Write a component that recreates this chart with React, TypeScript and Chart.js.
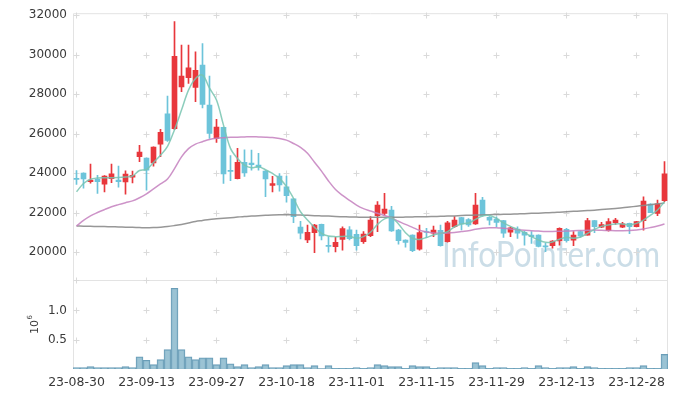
import { useEffect, useRef } from 'react';
import { Chart, registerables } from 'chart.js';

Chart.register(...registerables);

const dates = [
  '23-08-30', '23-08-31', '23-09-01', '23-09-04', '23-09-05', '23-09-06', '23-09-07', '23-09-08', '23-09-11', '23-09-12',
  '23-09-13', '23-09-14', '23-09-15', '23-09-18', '23-09-19', '23-09-20', '23-09-21', '23-09-22', '23-09-25', '23-09-26',
  '23-09-27', '23-10-04', '23-10-05', '23-10-06', '23-10-10', '23-10-11', '23-10-12', '23-10-13', '23-10-16', '23-10-17',
  '23-10-18', '23-10-19', '23-10-20', '23-10-23', '23-10-24', '23-10-25', '23-10-26', '23-10-27', '23-10-30', '23-10-31',
  '23-11-01', '23-11-02', '23-11-03', '23-11-06', '23-11-07', '23-11-08', '23-11-09', '23-11-10', '23-11-13', '23-11-14',
  '23-11-15', '23-11-16', '23-11-17', '23-11-20', '23-11-21', '23-11-22', '23-11-23', '23-11-24', '23-11-27', '23-11-28',
  '23-11-29', '23-11-30', '23-12-01', '23-12-04', '23-12-05', '23-12-06', '23-12-07', '23-12-08', '23-12-11', '23-12-12',
  '23-12-13', '23-12-14', '23-12-15', '23-12-18', '23-12-19', '23-12-20', '23-12-21', '23-12-22', '23-12-26', '23-12-27',
  '23-12-28', '24-01-02', '24-01-03', '24-01-04', '24-01-05',
];

const openP = [
  23720, 24000, 23570, 23700, 23440, 23720, 23650, 23550, 23790, 24830,
  24760, 24520, 25470, 27000, 26250, 28370, 28830, 28340, 29470, 27440,
  25750, 26320, 24120, 23720, 24550, 24500, 24400, 24100, 23380, 23850,
  23300, 22690, 21260, 20610, 20980, 21400, 20320, 20270, 20640, 21120,
  20900, 20520, 20830, 21840, 21960, 22120, 21110, 20610, 20860, 20140,
  21020, 20950, 21100, 20530, 21290, 21740, 21650, 21420, 22630, 21760,
  21670, 21590, 21000, 21160, 21000, 20860, 20860, 20290, 20320, 20560,
  21150, 20600, 21030, 20860, 21590, 21260, 21080, 21490, 21260, 21450,
  21280, 21590, 22430, 21960, 22600,
];
const highP = [
  24130, 24010, 24450, 23890, 23870, 24450, 24350, 24110, 24100, 25410,
  24770, 25330, 26210, 27900, 31680, 30480, 30480, 30140, 30560, 28910,
  26720, 26330, 24880, 25250, 25180, 25170, 25000, 24120, 23840, 23980,
  23850, 22700, 21550, 21370, 21400, 21420, 20780, 20740, 21280, 21290,
  21110, 21030, 21790, 22550, 22970, 22320, 21150, 20620, 20870, 21370,
  21200, 21320, 21370, 21560, 21790, 21760, 21700, 22970, 22770, 21800,
  21780, 21600, 21260, 21280, 21050, 21030, 20870, 20440, 20580, 21230,
  21200, 21030, 21080, 21710, 21600, 21500, 21700, 21710, 21500, 21470,
  21560, 22800, 22450, 22630, 24580,
];
const lowP = [
  23430, 23230, 23490, 22970, 23050, 23520, 23280, 22930, 23500, 24580,
  23140, 24350, 24830, 25600, 26200, 28130, 28540, 27620, 27300, 25750,
  25550, 23480, 23620, 23700, 23830, 24150, 24150, 22800, 23050, 23080,
  22530, 21490, 20660, 20480, 19970, 20610, 19990, 20000, 20100, 20610,
  20100, 20440, 20780, 21030, 21870, 21050, 20400, 20240, 20020, 20100,
  20740, 20780, 20300, 20500, 21250, 21120, 21300, 21400, 21820, 21370,
  21280, 20740, 20780, 20690, 20350, 20440, 20260, 20020, 20190, 20350,
  20500, 20320, 20750, 20850, 20980, 21240, 21060, 21400, 21240, 20930,
  21270, 21110, 21990, 21840, 22550,
];
const closeP = [
  23680, 23700, 23650, 23560, 23850, 23960, 23570, 23950, 23880, 25060,
  24150, 25320, 26060, 25650, 29920, 28910, 29330, 29210, 27480, 26010,
  26330, 23960, 24090, 24550, 24010, 24430, 24300, 23700, 23470, 23400,
  22850, 21790, 20950, 21000, 21370, 20820, 20290, 20490, 21190, 20680,
  20320, 20910, 21620, 22380, 22170, 21070, 20580, 20490, 20070, 20980,
  20990, 21110, 20320, 21480, 21620, 21420, 21370, 22380, 21850, 21620,
  21500, 20950, 21230, 20950, 20860, 20780, 20280, 20260, 20560, 21200,
  20580, 20860, 20810, 21590, 21290, 21390, 21540, 21620, 21430, 21290,
  21540, 22580, 22000, 22440, 23960,
];

const volume = [
  0.023, 0.023, 0.04, 0.023, 0.023, 0.023, 0.023, 0.04, 0.023, 0.21,
  0.15, 0.074, 0.16, 0.33, 1.38, 0.33, 0.21, 0.16, 0.19, 0.19,
  0.074, 0.19, 0.09, 0.04, 0.074, 0.023, 0.04, 0.074, 0.023, 0.023,
  0.057, 0.074, 0.074, 0.023, 0.057, 0.006, 0.057, 0.01, 0.01, 0.01,
  0.023, 0.01, 0.023, 0.074, 0.057, 0.04, 0.04, 0.01, 0.057, 0.04,
  0.04, 0.01, 0.023, 0.023, 0.023, 0.01, 0.01, 0.11, 0.057, 0.01,
  0.023, 0.023, 0.01, 0.01, 0.023, 0.01, 0.057, 0.023, 0.01, 0.023,
  0.023, 0.04, 0.01, 0.04, 0.023, 0.01, 0.01, 0.01, 0.01, 0.023,
  0.023, 0.057, 0.01, 0.01, 0.25,
];

const ma5 = [
  23050, 23470, 23690, 23750, 23760, 23760, 23770, 23800, 23850, 24130,
  24180, 24540, 24900, 25350, 26200, 27190, 28200, 28790, 28960, 28300,
  27700, 26430, 25250, 24740, 24400, 24270, 24320, 24170, 23980, 23730,
  23310, 22720, 22040, 21620, 21250, 20950, 20810, 20780, 20790, 20800,
  20700, 20780, 21000, 21400, 21680, 21740, 21420, 20980, 20700, 20640,
  20740, 20860, 20940, 21030, 21280, 21420, 21470, 21650, 21830, 21850,
  21700, 21480, 21300, 21150, 20980, 20780, 20610, 20490, 20510, 20650,
  20750, 20700, 20760, 20945, 21150, 21300, 21370, 21420, 21420, 21370,
  21450, 21620, 21870, 22130, 22550,
];
const ma20 = [
  21317, 21600, 21830, 22000, 22150, 22290, 22400, 22500, 22590, 22750,
  22950, 23200, 23450, 23700, 24230, 24820, 25240, 25470, 25590, 25700,
  25760, 25790, 25810, 25820, 25830, 25840, 25830, 25820, 25800, 25750,
  25670, 25500, 25300, 25000, 24550, 24100, 23600, 23170, 22870, 22620,
  22380, 22200, 22080, 21960, 21850, 21720, 21560, 21400, 21250, 21100,
  21020, 20970, 20950, 20960, 20990, 21040, 21080, 21150, 21200, 21230,
  21230, 21200, 21170, 21130, 21100, 21080, 21060, 21040, 21040, 21050,
  21060, 21080, 21090, 21100, 21110, 21100, 21090, 21080, 21080, 21090,
  21120, 21170, 21240, 21320, 21420,
];
const ma60 = [
  21317, 21310, 21300, 21295, 21290, 21280, 21270, 21260, 21250, 21240,
  21230, 21240, 21260, 21290, 21340, 21400, 21470, 21550, 21600, 21650,
  21680, 21710, 21740, 21770, 21800, 21820, 21840, 21860, 21880, 21890,
  21890, 21880, 21870, 21860, 21840, 21830, 21820, 21800, 21790, 21780,
  21770, 21760, 21760, 21760, 21760, 21760, 21760, 21770, 21780, 21790,
  21790, 21800, 21810, 21820, 21830, 21850, 21860, 21870, 21880, 21890,
  21900, 21910, 21920, 21930, 21940, 21960, 21970, 21990, 22000, 22020,
  22040, 22060, 22080, 22100, 22120, 22150, 22180, 22210, 22240, 22280,
  22320, 22360, 22400, 22440, 22480,
];

const priceTicks = [20000, 22000, 24000, 26000, 28000, 30000, 32000];
const volumeTicks = [0.5, 1.0];
const labelEvery = 10;
const watermarkText = 'InfoPointer.com';
const volumeUnitBase = '10';
const volumeUnitExp = '6';

const UP = '#e8373c';
const DOWN = '#6dc4da';
const FONT = 'DejaVu Sans';

export default function App() {
  const ref = useRef<HTMLCanvasElement>(null);

  useEffect(() => {
    if (!ref.current) return;
    const colors = closeP.map((c, i) => (c >= openP[i] ? UP : DOWN));

    const decor = {
      id: 'decor',
      beforeDatasetsDraw(chart: any) {
        const { ctx, chartArea: a, scales } = chart;
        const x = scales.x;
        const y = scales.y;
        const yv = scales.yVol;
        ctx.save();
        // watermark
        ctx.font = `36px Lato`;
        const w = ctx.measureText(watermarkText).width;
        ctx.fillStyle = 'rgba(186, 209, 223, 0.75)';
        ctx.textBaseline = 'alphabetic';
        ctx.translate(a.right - 8 - 218, y.bottom - 13);
        ctx.scale(218 / w, 1);
        ctx.fillText(watermarkText, 0, 0);
        ctx.restore();

        ctx.save();
        // frame
        ctx.strokeStyle = '#e3e3e3';
        ctx.lineWidth = 1;
        ctx.beginPath();
        ctx.moveTo(a.left + 0.5, a.top + 0.5);
        ctx.lineTo(a.right - 0.5, a.top + 0.5);
        ctx.lineTo(a.right - 0.5, a.bottom - 0.5);
        ctx.moveTo(a.left + 0.5, a.top + 0.5);
        ctx.lineTo(a.left + 0.5, a.bottom - 0.5);
        ctx.lineTo(a.right - 0.5, a.bottom - 0.5);
        ctx.moveTo(a.left, Math.round(yv.top) + 0.5);
        ctx.lineTo(a.right, Math.round(yv.top) + 0.5);
        ctx.stroke();

        // grid crosses
        ctx.strokeStyle = '#dadada';
        const xs: number[] = [];
        dates.forEach((_, i) => {
          if (i % labelEvery === 0) xs.push(Math.round(x.getPixelForValue(i) - 0.5) + 0.5);
        });
        const ys = [
          ...priceTicks.map((v) => y.getPixelForValue(v)),
          ...volumeTicks.map((v) => yv.getPixelForValue(v)),
          yv.top,
        ].map((v) => Math.round(v) + 0.5);
        ctx.beginPath();
        for (const px of xs) {
          for (const py of ys) {
            ctx.moveTo(px - 3, py);
            ctx.lineTo(px + 3, py);
            ctx.moveTo(px, py - 3);
            ctx.lineTo(px, py + 3);
          }
        }
        ctx.stroke();
        ctx.restore();
      },
      afterDraw(chart: any) {
        const { ctx, scales } = chart;
        const yv = scales.yVol;
        ctx.save();
        ctx.fillStyle = '#3a3a3a';
        ctx.textBaseline = 'alphabetic';
        ctx.textAlign = 'left';
        ctx.font = `11px ${FONT}`;
        const wb = ctx.measureText(volumeUnitBase).width;
        ctx.font = `7px ${FONT}`;
        const we = ctx.measureText(volumeUnitExp).width;
        const total = wb + we + 0.5;
        const cy = (yv.top + yv.bottom) / 2;
        ctx.translate(37.5, cy + total / 2);
        ctx.rotate(-Math.PI / 2);
        ctx.font = `11px ${FONT}`;
        ctx.fillText(volumeUnitBase, 0, 0);
        ctx.font = `7px ${FONT}`;
        ctx.fillText(volumeUnitExp, wb + 0.5, -5.5);
        ctx.restore();
      },
    };

    const chart = new Chart(ref.current, {
      type: 'bar',
      data: {
        labels: dates,
        datasets: [
          {
            type: 'line',
            label: 'MA5',
            data: ma5,
            yAxisID: 'y',
            borderColor: 'rgba(120, 196, 176, 0.85)',
            borderWidth: 1.5,
            pointRadius: 0,
            tension: 0.35,
            order: 0,
          },
          {
            type: 'line',
            label: 'MA20',
            data: ma20,
            yAxisID: 'y',
            borderColor: 'rgba(196, 128, 190, 0.85)',
            borderWidth: 1.5,
            pointRadius: 0,
            tension: 0.35,
            order: 0,
          },
          {
            type: 'line',
            label: 'MA60',
            data: ma60,
            yAxisID: 'y',
            borderColor: 'rgba(140, 140, 140, 0.9)',
            borderWidth: 1.5,
            pointRadius: 0,
            tension: 0.35,
            order: 0,
          },
          {
            type: 'bar',
            label: 'body',
            data: openP.map((o, i) => [o, closeP[i]]),
            yAxisID: 'y',
            backgroundColor: colors,
            barThickness: 5,
            minBarLength: 1,
            grouped: false,
            order: 1,
          },
          {
            type: 'bar',
            label: 'wick',
            data: lowP.map((l, i) => [l, highP[i]]),
            yAxisID: 'y',
            backgroundColor: colors,
            barThickness: 1,
            grouped: false,
            order: 2,
          },
          {
            type: 'bar',
            label: 'volume',
            data: volume,
            yAxisID: 'yVol',
            backgroundColor: 'rgba(138, 184, 204, 0.85)',
            borderColor: '#6a9db7',
            borderWidth: 1,
            barPercentage: 1,
            categoryPercentage: 1,
            grouped: false,
            order: 3,
          },
        ],
      } as any,
      options: {
        responsive: false,
        animation: false,
        devicePixelRatio: 1,
        events: [],
        layout: { padding: { top: 13, right: 9, left: 0, bottom: 0 } },
        plugins: { legend: { display: false }, tooltip: { enabled: false } },
        scales: {
          x: {
            type: 'category',
            offset: true,
            grid: { display: false, drawTicks: false },
            border: { display: false },
            ticks: {
              autoSkip: false,
              maxRotation: 0,
              minRotation: 0,
              padding: 6,
              color: '#3a3a3a',
              font: { family: FONT, size: 12.5 },
              callback: (_v: any, i: number) => (i % labelEvery === 0 ? dates[i] : ''),
            },
            afterFit: (s: any) => {
              s.height = 29;
            },
          },
          yVol: {
            type: 'linear',
            position: 'left',
            stack: 'panes',
            stackWeight: 1,
            min: 0,
            max: 1.52,
            grid: { display: false, drawTicks: false },
            border: { display: false },
            ticks: {
              padding: 6,
              color: '#3a3a3a',
              font: { family: FONT, size: 12 },
              callback: (v: any) => Number(v).toFixed(1),
            },
            afterBuildTicks: (s: any) => {
              s.ticks = volumeTicks.map((v) => ({ value: v }));
            },
            afterFit: (s: any) => {
              s.width = 73;
            },
          },
          y: {
            type: 'linear',
            position: 'left',
            stack: 'panes',
            stackWeight: 3,
            min: 18580,
            max: 32100,
            grid: { display: false, drawTicks: false },
            border: { display: false },
            ticks: {
              padding: 6,
              color: '#3a3a3a',
              font: { family: FONT, size: 12 },
              callback: (v: any) => String(v),
            },
            afterBuildTicks: (s: any) => {
              s.ticks = priceTicks.map((v) => ({ value: v }));
            },
            afterFit: (s: any) => {
              s.width = 73;
            },
          },
        },
      } as any,
      plugins: [decor],
    });

    return () => chart.destroy();
  }, []);

  return (
    <div style={{ position: 'absolute', left: 0, top: 0, width: 677, height: 398, background: '#fff' }}>
      <canvas ref={ref} width={677} height={398} style={{ display: 'block' }} />
    </div>
  );
}
